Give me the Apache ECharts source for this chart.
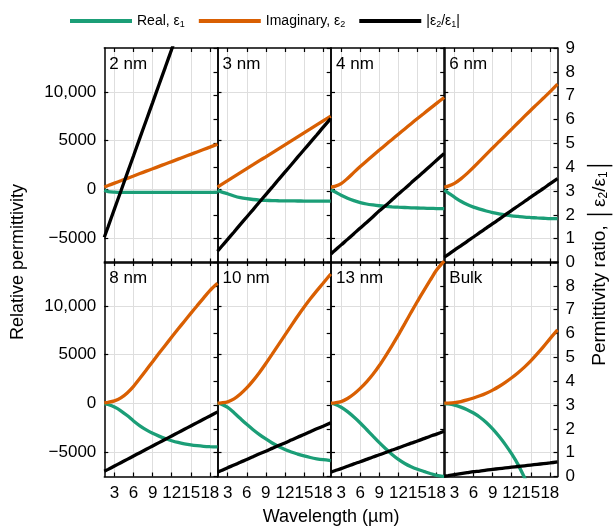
<!DOCTYPE html>
<html><head><meta charset="utf-8">
<script src="https://cdn.jsdelivr.net/npm/echarts@6/dist/echarts.min.js"></script>
<style>html,body{margin:0;padding:0;background:#fff}#c{width:613px;height:526px}</style>
</head><body><div id="c"></div>
<script>
// ---------- data ----------
const wavelength = [1.4, 2, 3, 4, 5, 6, 7, 8, 9, 10, 11, 12, 13, 14, 15, 16, 17, 18, 19.2];
const panelLabels = ['2 nm', '3 nm', '4 nm', '6 nm', '8 nm', '10 nm', '13 nm', 'Bulk'];
const xTickValues = [3, 6, 9, 12, 15, 18];
const permTickValues = [-5000, 0, 5000, 10000];
const ratioTickValues = [0, 1, 2, 3, 4, 5, 6, 7, 8, 9];
const ratioLabelsTop = [0, 1, 2, 3, 4, 5, 6, 7, 8, 9];
const ratioLabelsBottom = [0, 1, 2, 3, 4, 5, 6, 7, 8];

const eps1_2nm  = [-80, -220, -280, -300, -300, -300, -300, -300, -300, -300, -300, -300, -300, -300, -300, -300, -300, -300, -300];
const eps2_2nm  = [240, 390, 640, 880, 1130, 1370, 1620, 1870, 2110, 2360, 2610, 2850, 3100, 3350, 3590, 3840, 4090, 4330, 4630];
const ratio_2nm = [1.06, 1.5, 2.25, 2.99, 3.74, 4.48, 5.23, 5.97, 6.71, 7.46, 8.2, 8.95, 9.7, 10.4, 11.2, 11.9, 12.7, 13.4, 14.3];

const eps1_3nm  = [-100, -250, -450, -680, -850, -960, -1040, -1100, -1130, -1150, -1165, -1175, -1185, -1190, -1195, -1200, -1200, -1200, -1200];
const eps2_3nm  = [240, 490, 890, 1300, 1710, 2120, 2530, 2940, 3340, 3750, 4160, 4570, 4980, 5390, 5800, 6200, 6610, 7020, 7510];
const ratio_3nm = [0.47, 0.66, 0.97, 1.28, 1.6, 1.91, 2.22, 2.54, 2.85, 3.16, 3.48, 3.79, 4.1, 4.42, 4.73, 5.04, 5.35, 5.67, 6.04];

const eps1_4nm  = [-50, -250, -600, -900, -1150, -1350, -1500, -1600, -1680, -1740, -1790, -1830, -1860, -1890, -1910, -1930, -1950, -1965, -1980];
const eps2_4nm  = [240, 310, 590, 1120, 1740, 2340, 2920, 3480, 4030, 4580, 5120, 5660, 6200, 6740, 7270, 7790, 8310, 8820, 9430];
const ratio_4nm = [0.36, 0.5, 0.74, 0.97, 1.21, 1.45, 1.68, 1.92, 2.17, 2.39, 2.63, 2.87, 3.1, 3.34, 3.58, 3.81, 4.05, 4.29, 4.57];

const eps1_6nm  = [-80, -350, -800, -1220, -1560, -1820, -2030, -2220, -2380, -2510, -2620, -2710, -2780, -2845, -2890, -2930, -2960, -2990, -3010];
const eps2_6nm  = [240, 330, 620, 1080, 1640, 2270, 2930, 3590, 4240, 4890, 5530, 6180, 6830, 7480, 8120, 8740, 9370, 10000, 10800];
const ratio_6nm = [0.22, 0.33, 0.52, 0.7, 0.89, 1.07, 1.26, 1.44, 1.63, 1.81, 2.0, 2.19, 2.37, 2.56, 2.74, 2.93, 3.11, 3.3, 3.52];

const eps1_8nm  = [-20, -120, -380, -760, -1250, -1800, -2300, -2720, -3070, -3360, -3610, -3830, -4010, -4150, -4260, -4340, -4400, -4440, -4470];
const eps2_8nm  = [60, 110, 260, 560, 1070, 1750, 2570, 3420, 4280, 5130, 5970, 6800, 7620, 8430, 9230, 10020, 10800, 11570, 12320];
const ratio_8nm = [0.22, 0.3, 0.44, 0.58, 0.72, 0.86, 1.0, 1.14, 1.28, 1.42, 1.56, 1.7, 1.84, 1.98, 2.12, 2.26, 2.4, 2.54, 2.71];

const eps1_10nm  = [-10, -80, -420, -960, -1560, -2150, -2700, -3200, -3650, -4060, -4420, -4730, -4990, -5200, -5390, -5550, -5680, -5780, -5870];
const eps2_10nm  = [30, 60, 160, 460, 960, 1580, 2330, 3170, 4090, 5050, 6030, 7000, 7970, 8930, 9850, 10720, 11540, 12320, 13270];
const ratio_10nm = [0.18, 0.25, 0.37, 0.48, 0.6, 0.71, 0.83, 0.95, 1.06, 1.18, 1.3, 1.41, 1.53, 1.65, 1.76, 1.88, 2.0, 2.11, 2.25];

const eps1_13nm  = [-10, -90, -400, -850, -1400, -2010, -2680, -3360, -4030, -4660, -5240, -5750, -6170, -6500, -6760, -6980, -7190, -7390, -7520];
const eps2_13nm  = [30, 60, 180, 500, 960, 1540, 2210, 2980, 3880, 4880, 5930, 7020, 8180, 9340, 10470, 11570, 12630, 13680, 14600];
const ratio_13nm = [0.18, 0.24, 0.33, 0.43, 0.53, 0.62, 0.72, 0.82, 0.91, 1.01, 1.11, 1.2, 1.3, 1.4, 1.49, 1.59, 1.69, 1.78, 1.9];

const eps1_bulk  = [-20, -50, -170, -380, -650, -990, -1420, -1960, -2620, -3380, -4230, -5190, -6280, -7600, -9000, -10500, -12100, -13800, -16000];
const eps2_bulk  = [20, 30, 80, 190, 350, 550, 780, 1050, 1360, 1730, 2160, 2630, 3150, 3720, 4360, 5070, 5820, 6620, 7540];
const ratio_bulk = [0.02, 0.04, 0.08, 0.12, 0.16, 0.2, 0.23, 0.27, 0.3, 0.33, 0.36, 0.39, 0.42, 0.45, 0.48, 0.51, 0.54, 0.57, 0.61];

const realList  = [eps1_2nm, eps1_3nm, eps1_4nm, eps1_6nm, eps1_8nm, eps1_10nm, eps1_13nm, eps1_bulk];
const imagList  = [eps2_2nm, eps2_3nm, eps2_4nm, eps2_6nm, eps2_8nm, eps2_10nm, eps2_13nm, eps2_bulk];
const ratioList = [ratio_2nm, ratio_3nm, ratio_4nm, ratio_6nm, ratio_8nm, ratio_10nm, ratio_13nm, ratio_bulk];

// ---------- layout / style ----------
const FONT = '"Liberation Sans", Arial, Helvetica, sans-serif';
const lefts = [104.3, 217.5, 331, 444.3];
const tops = [48, 262];
const W = 113.2, H = 214.5;
const GREEN = '#1b9e77', ORANGE = '#d95f02', BLACK = '#000000';
const axisLine = {show: true, onZero: false, lineStyle: {color: '#000', width: 1.5}};
const tickStyle = {color: '#000', width: 1.2};
const splitStyle = {color: '#dedede', width: 1};

const grids = [], xAxes = [], yAxes = [], series = [], graphics = [];
const pts = arr => wavelength.map((w, k) => [w, arr[k]]);

for (let i = 0; i < 8; i++) {
  const row = Math.floor(i / 4), col = i % 4;
  grids.push({left: lefts[col], top: tops[row], width: W, height: H});
  xAxes.push({
    gridIndex: i, type: 'value', min: 1.4, max: 19.2, position: 'bottom',
    axisLine: axisLine,
    axisTick: {show: true, inside: true, length: 4, customValues: xTickValues, lineStyle: tickStyle},
    axisLabel: {show: row === 1, customValues: xTickValues, margin: 8, color: '#000', fontSize: 17, fontFamily: FONT},
    splitLine: {show: true, lineStyle: splitStyle}
  });
  xAxes.push({
    gridIndex: i, type: 'value', min: 1.4, max: 19.2, position: 'top',
    axisLine: axisLine,
    axisTick: {show: true, inside: true, length: 4, customValues: xTickValues, lineStyle: tickStyle},
    axisLabel: {show: false}, splitLine: {show: false}
  });
  yAxes.push({
    gridIndex: i, type: 'value', min: -7500, max: 14500, position: 'left',
    axisLine: axisLine,
    axisTick: {show: true, inside: true, length: 4, customValues: permTickValues, lineStyle: tickStyle},
    axisLabel: {show: col === 0, customValues: permTickValues, margin: 8, color: '#000', fontSize: 17, fontFamily: FONT,
      formatter: v => v === 10000 ? '10,000' : (v < 0 ? '\u2212' + Math.abs(v) : String(v))},
    splitLine: {show: true, lineStyle: splitStyle}
  });
  yAxes.push({
    gridIndex: i, type: 'value', min: 0, max: 9, position: 'right',
    axisLine: axisLine,
    axisTick: {show: true, inside: true, length: 4, customValues: ratioTickValues, lineStyle: tickStyle},
    axisLabel: {show: col === 3, customValues: row === 0 ? ratioLabelsTop : ratioLabelsBottom, margin: 8, color: '#000', fontSize: 17, fontFamily: FONT},
    splitLine: {show: false}
  });
  const common = {type: 'line', smooth: 0.3, showSymbol: false, symbol: 'none', xAxisIndex: 2 * i, clip: true};
  series.push(Object.assign({}, common, {name: 'Real', yAxisIndex: 2 * i, data: pts(realList[i]), lineStyle: {color: GREEN, width: 3.3}, itemStyle: {color: GREEN}}));
  series.push(Object.assign({}, common, {name: 'Imaginary', yAxisIndex: 2 * i, data: pts(imagList[i]), lineStyle: {color: ORANGE, width: 3.3}, itemStyle: {color: ORANGE}}));
  series.push(Object.assign({}, common, {name: 'Ratio', yAxisIndex: 2 * i + 1, data: pts(ratioList[i]), lineStyle: {color: BLACK, width: 3.3}, itemStyle: {color: BLACK}}));
  graphics.push({type: 'text', x: lefts[col] + 5, y: tops[row] + 16, z: 100,
    style: {text: panelLabels[i], font: '17px ' + FONT, fill: '#000', textVerticalAlign: 'middle'}});
}

graphics.push({type: 'text', x: 18, y: 262, rotation: Math.PI / 2,
  style: {text: 'Relative permittivity', font: '18px ' + FONT, fill: '#000', textAlign: 'center', textVerticalAlign: 'middle'}});
graphics.push({type: 'text', x: 331, y: 517,
  style: {text: 'Wavelength (\u00b5m)', font: '18px ' + FONT, fill: '#000', textAlign: 'center', textVerticalAlign: 'middle'}});
graphics.push({type: 'text', x: 600, y: 262, rotation: Math.PI / 2,
  style: {text: '{t|Permittivity ratio, }{b|\u2502}{t|\u03b5}{s|2}{t|/\u03b5}{s|1}{b|\u2502}',
    textAlign: 'center', textVerticalAlign: 'middle', fill: '#000',
    rich: {
      t: {fontSize: 19, fontFamily: FONT, lineHeight: 20, fill: '#000'},
      b: {fontSize: 21, fontFamily: FONT, lineHeight: 20, fill: '#000'},
      s: {fontSize: 12, fontFamily: FONT, lineHeight: 6, verticalAlign: 'bottom', fill: '#000'}
    }}});

const legendNames = {
  Real: '{t|Real, \u03b5}{s|1}',
  Imaginary: '{t|Imaginary, \u03b5}{s|2}',
  Ratio: '{t||\u03b5}{s|2}{t|/\u03b5}{s|1}{t||}'
};

const chart = echarts.init(document.getElementById('c'), null, {renderer: 'canvas'});
chart.setOption({
  animation: false,
  backgroundColor: '#fff',
  legend: {
    data: ['Real', 'Imaginary', 'Ratio'], top: 9, left: 65, icon: 'rect',
    itemWidth: 62, itemHeight: 4, itemGap: 14,
    formatter: n => legendNames[n],
    textStyle: {color: '#000', fontFamily: FONT, fontSize: 14,
      rich: {
        t: {fontSize: 14, fontFamily: FONT, lineHeight: 16, color: '#000'},
        s: {fontSize: 9, fontFamily: FONT, lineHeight: 5, verticalAlign: 'bottom', color: '#000'}
      }}
  },
  grid: grids, xAxis: xAxes, yAxis: yAxes, series: series, graphic: graphics
});
</script></body></html>
